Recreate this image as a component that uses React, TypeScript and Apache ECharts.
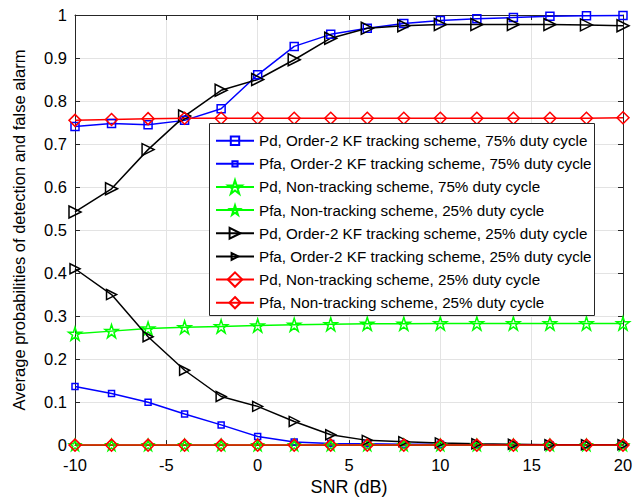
import React, { useEffect, useRef } from "react";
import * as echarts from "echarts";

const snr = [-10, -8, -6, -4, -2, 0, 2, 4, 6, 8, 10, 12, 14, 16, 18, 20];
const pdKf75 = [0.741, 0.748, 0.745, 0.755, 0.782, 0.861, 0.927, 0.955, 0.969, 0.98, 0.987, 0.991, 0.994, 0.997, 0.998, 0.999];
const pfaKf75 = [0.136, 0.12, 0.0995, 0.0725, 0.047, 0.02, 0.007, 0.004, 0.003, 0.002, 0.002, 0.001, 0.001, 0.001, 0.001, 0.001];
const pdNt75 = [0.259, 0.265, 0.271, 0.274, 0.276, 0.278, 0.28, 0.281, 0.282, 0.282, 0.283, 0.283, 0.283, 0.283, 0.283, 0.283];
const pfaNt25 = [0, 0, 0, 0, 0, 0, 0, 0, 0, 0, 0, 0, 0, 0, 0, 0];
const pdKf25 = [0.542, 0.596, 0.687, 0.765, 0.825, 0.85, 0.896, 0.946, 0.969, 0.975, 0.978, 0.978, 0.978, 0.978, 0.977, 0.975];
const pfaKf25 = [0.41, 0.35, 0.252, 0.174, 0.113, 0.09, 0.055, 0.024, 0.011, 0.008, 0.005, 0.003, 0.002, 0.001, 0.001, 0.001];
const pdNt25 = [0.755, 0.757, 0.759, 0.76, 0.76, 0.76, 0.76, 0.76, 0.76, 0.76, 0.76, 0.76, 0.76, 0.76, 0.76, 0.761];
const pfaNt25b = [0, 0, 0, 0, 0, 0, 0, 0, 0, 0, 0, 0, 0, 0, 0, 0];

// The reference repeats one label; a trailing space keeps the two legend entries distinct.
const names = [
  "Pd, Order-2 KF tracking scheme, 75% duty cycle",
  "Pfa, Order-2 KF tracking scheme, 75% duty cycle",
  "Pd, Non-tracking scheme, 75% duty cycle",
  "Pfa, Non-tracking scheme, 25% duty cycle",
  "Pd, Order-2 KF tracking scheme, 25% duty cycle",
  "Pfa, Order-2 KF tracking scheme, 25% duty cycle",
  "Pd, Non-tracking scheme, 25% duty cycle",
  "Pfa, Non-tracking scheme, 25% duty cycle ",
];

const STAR =
  "path://M12,0 L14.8,8.6 L23.8,8.6 L16.5,13.9 L19.3,22.5 L12,17.2 L4.7,22.5 L7.5,13.9 L0.2,8.6 L9.2,8.6 Z";

const FONT = "Liberation Sans, Arial, Helvetica, sans-serif";

// legend icon heights (symbol = 80% of it)
const legendIconH = [10.5, 6.5, 17, 12, 13.5, 8.5, 18, 14];

function mk(name: string, data: number[], color: string, symbol: string, size: number, rotate = 0) {
  return {
    name,
    type: "line",
    data: snr.map((x, i) => [x, data[i]]),
    symbol,
    symbolSize: size,
    symbolRotate: rotate,
    showAllSymbol: true,
    clip: false,
    lineStyle: { color, width: 1.5 },
    itemStyle: { color: "rgba(0,0,0,0)", borderColor: color, borderWidth: 1.5 },
    emphasis: { disabled: true },
  };
}

export default function App() {
  const ref = useRef<HTMLDivElement>(null);
  useEffect(() => {
    if (!ref.current) return;
    const chart = echarts.init(ref.current, undefined, { renderer: "svg" });
    const axisLine = { show: true, onZero: false, lineStyle: { color: "#262626", width: 1 } };
    const tick = { show: true, inside: true, length: 5, lineStyle: { color: "#262626" } };
    const LH = 20;
    const legends = names.map((n, i) => ({
      orient: "vertical",
      left: 215,
      top: 140.7 + i * 23.14 - LH / 2,
      itemWidth: 38,
      itemHeight: legendIconH[i],
      padding: 0,
      textStyle: { fontSize: 15.2, lineHeight: LH, color: "#000", fontFamily: FONT },
      data: [n],
      z: 6,
    }));
    chart.setOption({
      animation: false,
      backgroundColor: "#fff",
      textStyle: { fontFamily: FONT },
      grid: { left: 75, right: 15, top: 15, bottom: 54 },
      xAxis: [
        {
          type: "value",
          min: -10,
          max: 20,
          interval: 5,
          position: "bottom",
          name: "SNR (dB)",
          nameLocation: "middle",
          nameGap: 32,
          nameTextStyle: { fontSize: 18, color: "#000", fontFamily: FONT },
          axisLine,
          axisTick: tick,
          axisLabel: { fontSize: 16.5, color: "#000", margin: 11, fontFamily: FONT },
          splitLine: { show: true, lineStyle: { color: "#e3e3e3", width: 1 } },
        },
        {
          type: "value",
          min: -10,
          max: 20,
          interval: 5,
          position: "top",
          axisLine,
          axisTick: tick,
          axisLabel: { show: false },
          splitLine: { show: false },
        },
      ],
      yAxis: [
        {
          type: "value",
          min: 0,
          max: 1,
          interval: 0.1,
          position: "left",
          name: "Average probabilities of detection and false alarm",
          nameLocation: "middle",
          nameGap: 48,
          nameTextStyle: { fontSize: 16.5, color: "#000", fontFamily: FONT },
          axisLine,
          axisTick: tick,
          axisLabel: { fontSize: 16.5, color: "#000", margin: 8, fontFamily: FONT },
          splitLine: { show: true, lineStyle: { color: "#e3e3e3", width: 1 } },
        },
        {
          type: "value",
          min: 0,
          max: 1,
          interval: 0.1,
          position: "right",
          axisLine,
          axisTick: tick,
          axisLabel: { show: false },
          splitLine: { show: false },
        },
      ],
      graphic: [
        {
          type: "rect",
          z: 5,
          shape: { x: 209.5, y: 123.5, width: 385, height: 192 },
          style: { fill: "#fff", stroke: "#262626", lineWidth: 1 },
        },
      ],
      legend: legends,
      series: [
        mk(names[0], pdKf75, "#0000ff", "rect", 8),
        mk(names[1], pfaKf75, "#0000ff", "rect", 6),
        mk(names[2], pdNt75, "#00ff00", STAR, 13),
        mk(names[3], pfaNt25, "#00ff00", STAR, 11),
        mk(names[4], pdKf25, "#000000", "triangle", 12, -90),
        mk(names[5], pfaKf25, "#000000", "triangle", 10, -90),
        mk(names[6], pdNt25, "#ff0000", "diamond", 12),
        mk(names[7], pfaNt25b, "#ff0000", "diamond", 12),
      ],
    });
    return () => chart.dispose();
  }, []);
  return <div ref={ref} style={{ width: 638, height: 501, position: "absolute", left: 0, top: 0 }} />;
}
